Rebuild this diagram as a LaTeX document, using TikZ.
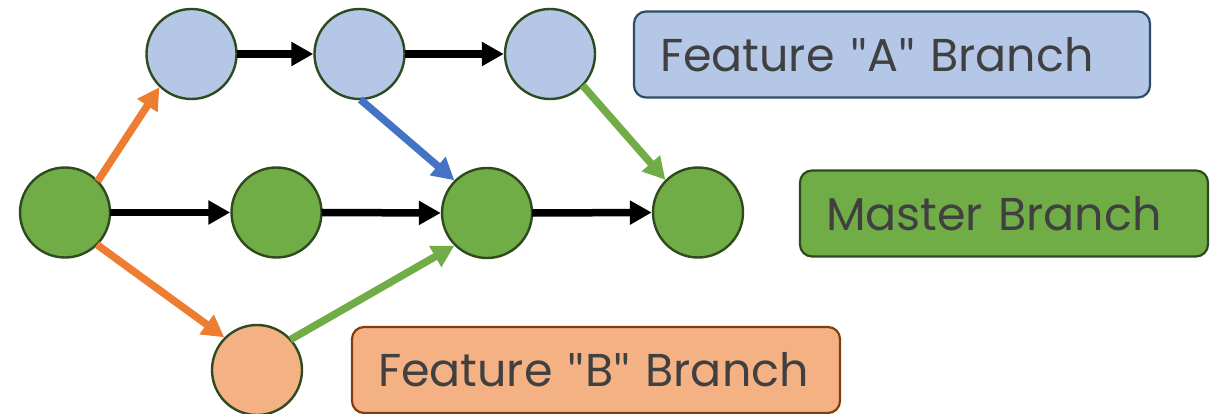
\documentclass[tikz,border=0pt]{standalone}
\usepackage{fontspec}
\setmainfont{Poppins}
\newfontfamily\qfont{Lato}
\usetikzlibrary{arrows.meta}
\definecolor{cblue}{HTML}{B4C7E7}
\definecolor{cgreen}{HTML}{70AD47}
\definecolor{corange}{HTML}{F4B183}
\definecolor{cring}{HTML}{2E4A1E}
\definecolor{aorange}{HTML}{ED7D31}
\definecolor{ablue}{HTML}{4472C4}
\definecolor{agreen}{HTML}{70AD47}
\definecolor{bblue}{HTML}{2F4B68}
\definecolor{bgreen}{HTML}{2E4A1E}
\definecolor{bbrown}{HTML}{843C0C}
\definecolor{txt}{HTML}{404040}
\tikzset{
  commit/.style={circle, draw=cring, line width=2.4pt, minimum size=90pt, inner sep=0pt},
  flow/.style={line width=7.5pt, -{Triangle[length=22pt,width=23pt]}, shorten <=-1pt},
  label box/.style={rounded corners=12pt, line width=2.2pt, inner xsep=26pt, inner ysep=0pt,
    minimum height=86pt, align=left, text=txt, font=\fontsize{46}{50}\selectfont}
}
\newcommand{\qq}{{\qfont\symbol{34}}}
\begin{document}
\begin{tikzpicture}[x=1pt, y=-1pt]
\useasboundingbox (0,0) rectangle (1210,414);
% commits
\node[commit, fill=cblue] (a1) at (191.5,54) {};
\node[commit, fill=cblue] (a2) at (359.5,54) {};
\node[commit, fill=cblue] (a3) at (550,54) {};
\node[commit, fill=cgreen] (m1) at (65,212.5) {};
\node[commit, fill=cgreen] (m2) at (276.5,212.5) {};
\node[commit, fill=cgreen] (m3) at (487,213) {};
\node[commit, fill=cgreen] (m4) at (698,212.5) {};
\node[commit, fill=corange] (b1) at (257,370) {};
% labels
\node[label box, fill=cblue, draw=bblue, text width=464pt] (la) at (892,54.5) {Feature \qq A\qq{} Branch};
\node[label box, fill=cgreen, draw=bgreen, text width=356pt] (lm) at (1004,213.5) {Master Branch};
\node[label box, fill=corange, draw=bbrown, text width=436pt] (lb) at (596,370) {Feature \qq B\qq{} Branch};
% black connectors
\draw[flow, black] (a1.east) -- (a2.west);
\draw[flow, black] (a2.east) -- (a3.west);
\draw[flow, black] (m1.east) -- (m2.west);
\draw[flow, black] (m2.east) -- (m3.west);
\draw[flow, black] (m3.east) -- (m4.west);
% coloured connectors
\draw[flow, aorange] (m1.44) -- (a1.226);
\draw[flow, aorange] (m1.-45) -- (b1.135);
\draw[flow, ablue] (a2.-88) -- (m3.135);
\draw[flow, agreen] (a3.-44) -- (m4.135);
\draw[flow, agreen] (b1.42) -- (m3.225);
\end{tikzpicture}
\end{document}
